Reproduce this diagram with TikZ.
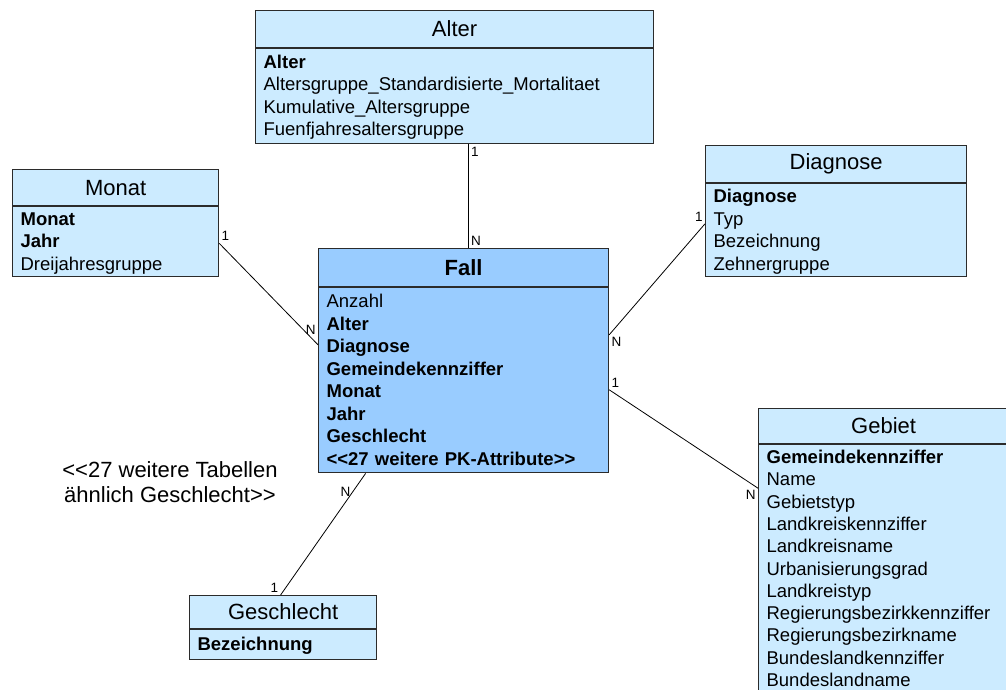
\documentclass[tikz,border=0pt]{standalone}
\usepackage{fontspec}
\setmainfont{Liberation Sans}[Ligatures=TeXOff]
\usetikzlibrary{positioning}
\definecolor{Edge}{HTML}{2B2B2B}
\definecolor{Sky}{HTML}{CCEBFF}
\definecolor{Fact}{HTML}{99CCFF}
\newcommand{\hfont}{\fontsize{22}{26}\selectfont}
\newcommand{\afont}{\fontsize{18.5}{22.5}\selectfont}
\tikzset{head/.style={draw=Edge,line width=1.2pt,fill=Sky,minimum height=37pt,inner sep=0pt,font=\hfont,anchor=north west},attrs/.style={draw=Edge,line width=1.2pt,fill=Sky,inner xsep=8pt,inner ysep=2.5pt,align=left,font=\afont,below=0pt of #1,execute at begin node=\rule{0pt}{17.2pt},execute at end node=\rule[-5.3pt]{0pt}{0pt}},link/.style={line width=.8pt,draw=black},card/.style={font=\fontsize{13.5}{15}\selectfont,inner sep=2pt},note/.style={font=\fontsize{22}{25}\selectfont,align=center}}

\begin{document}
\begin{tikzpicture}[x=1pt,y=-1pt]
\useasboundingbox (0,0) rectangle (1006,690);
\node[head,minimum width=398pt] (alterh) at (255,10) {Alter};
\node[attrs=alterh,text width=382pt] (alterb) {\textbf{Alter}\\Altersgruppe\_Standardisierte\_Mortalitaet\\Kumulative\_Altersgruppe\\Fuenfjahresaltersgruppe};
\node[head,minimum width=206pt,minimum height=36pt] (monath) at (12,169) {Monat};
\node[attrs=monath,text width=190pt,inner ysep=1pt] (monatb) {\textbf{Monat}\\\textbf{Jahr}\\Dreijahresgruppe};
\node[head,minimum width=261pt] (diagh) at (705,145) {Diagnose};
\node[attrs=diagh,text width=245pt,inner ysep=1.5pt] (diagb) {\textbf{Diagnose}\\Typ\\Bezeichnung\\Zehnergruppe};
\node[head,fill=Fact,font=\hfont\bfseries,minimum width=290pt,minimum height=38pt] (fallh) at (318,248) {Fall};
\node[attrs=fallh,fill=Fact,text width=274pt] (fallb) {Anzahl\\\textbf{Alter}\\\textbf{Diagnose}\\\textbf{Gemeindekennziffer}\\\textbf{Monat}\\\textbf{Jahr}\\\textbf{Geschlecht}\\\textbf{<<27 weitere PK-Attribute>>}};
\node[head,minimum width=250pt,minimum height=35pt] (gebieth) at (758,408) {Gebiet};
\node[attrs=gebieth,text width=234pt,inner ysep=1.5pt,font=\fontsize{18.5}{22.3}\selectfont] (gebietb) {\textbf{Gemeindekennziffer}\\Name\\Gebietstyp\\Landkreiskennziffer\\Landkreisname\\Urbanisierungsgrad\\Landkreistyp\\Regierungsbezirkkennziffer\\Regierungsbezirkname\\Bundeslandkennziffer\\Bundeslandname};
\node[head,minimum width=187pt,minimum height=33pt] (geschh) at (189,595) {Geschlecht};
\node[attrs=geschh,text width=171pt,inner ysep=3.5pt] (geschb) {\textbf{Bezeichnung}};
\node[note] (hint) at (170,482) {<<27 weitere Tabellen\\ähnlich Geschlecht>>};
\draw[link] ([xshift=14pt]alterb.south) -- node[card,pos=0,anchor=north west]{1} node[card,pos=1,anchor=south west]{N} ([xshift=5pt]fallh.north);
\draw[link] ([yshift=-1.75pt]monatb.east) -- node[card,pos=0,anchor=south west]{1} node[card,pos=1,anchor=south east,yshift=8pt]{N} ([yshift=35.5pt]fallb.west);
\draw[link] ([yshift=6.5pt]diagb.west) -- node[card,pos=0,anchor=south east]{1} node[card,pos=1,anchor=north west]{N} ([yshift=45.5pt]fallb.east);
\draw[link] ([yshift=-9.5pt]fallb.east) -- node[card,pos=0,anchor=south west]{1} node[card,pos=1,anchor=north east]{N} ([yshift=-44pt]gebietb.north west);
\draw[link] ([xshift=-98pt]fallb.south) -- node[card,pos=.15,anchor=east]{N} node[card,pos=1,anchor=south east]{1} ([xshift=-2.5pt]geschh.north);
\end{tikzpicture}
\end{document}
